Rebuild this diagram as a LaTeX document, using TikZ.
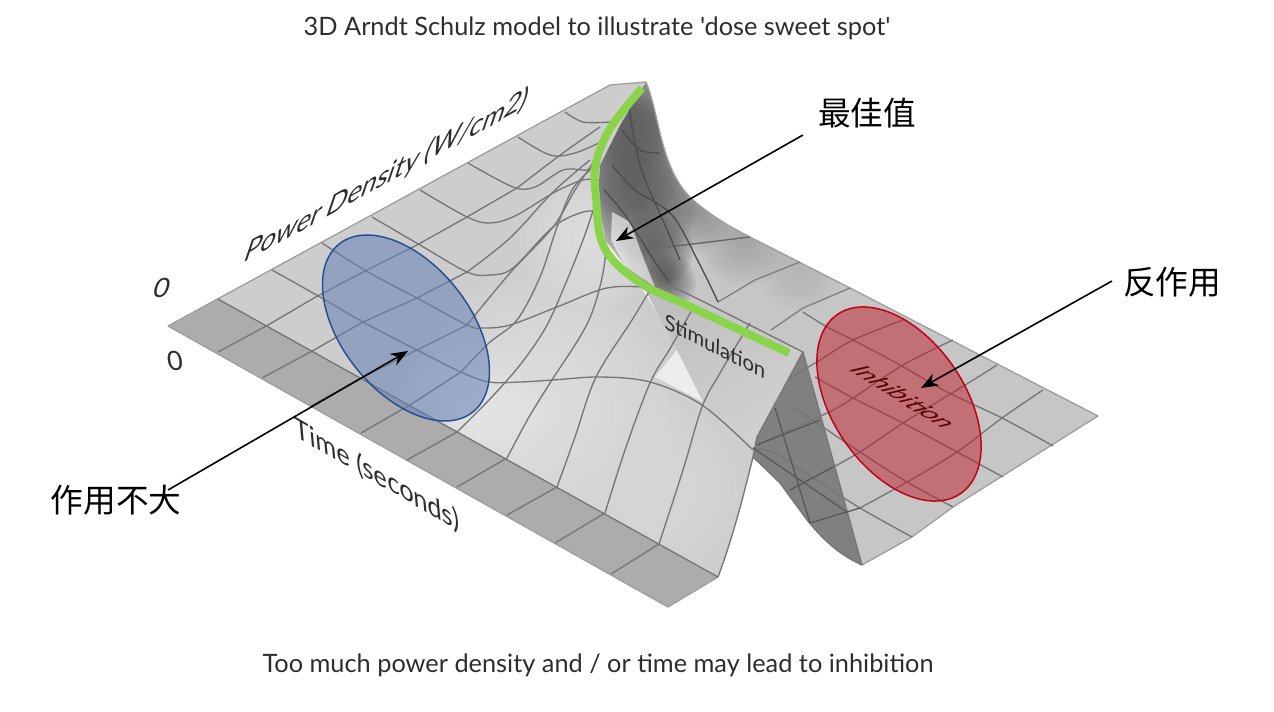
\documentclass[tikz,border=0pt]{standalone}
\usepackage{fontspec}
\setmainfont{Lato}
\newfontfamily\plainfont{Lato}
\newfontfamily\cjk{Noto Sans CJK SC}
\usetikzlibrary{shapes.geometric,arrows.meta}
\definecolor{stripc}{RGB}{172,172,172}
\definecolor{basec}{RGB}{205,205,205}
\definecolor{planec}{RGB}{198,198,198}
\definecolor{wallc}{RGB}{128,128,128}
\definecolor{meshc}{RGB}{118,118,118}
\definecolor{greenc}{RGB}{138,212,76}
\definecolor{bluefill}{RGB}{100,128,180}
\definecolor{blueline}{RGB}{38,78,150}
\definecolor{redfill}{RGB}{190,28,40}
\definecolor{redline}{RGB}{192,0,20}
\definecolor{inkc}{RGB}{45,45,45}
\tikzset{
  mesh/.style={draw=meshc,line width=1pt,line join=round},
  smoothmesh/.style={mesh,smooth,tension=0.55},
  pointer/.style={draw=black,line width=1.2pt,-{Stealth[length=13pt,width=10pt]}},
  cjklabel/.style={font=\cjk\fontsize{24.5}{28}\selectfont,text=black,inner sep=0pt},
  title/.style={font=\plainfont\fontsize{19}{22}\selectfont,text=inkc,inner sep=0pt},
  axislabel/.style={text=inkc,inner sep=0pt,transform shape},
}
\newcommand{\softblob}[4]{%
  \foreach \k in {1,...,12}{\fill[#4,fill opacity=0.07] (#1,#2) circle [radius={\k*#3/12}];}}
\begin{document}
\begin{tikzpicture}[x=0.75pt,y=-0.75pt]
\useasboundingbox (0,0) rectangle (1274,712);
% ---- right-hand plane, back edge to lower edge
\fill[planec] (646,82) .. controls (660,115) and (660,170) .. (693,200)
  .. controls (710,215) and (730,227) .. (750,237) -- (854,290) -- (1098,416)
  -- (953,507) -- (912,537) -- (862,565) -- (803,350) -- (680,300) -- (640,285)
  -- (605,240) -- (595,190) -- (596,160) -- (615,125) -- cycle;
% soft dark shading in the trough
\begin{scope}
  \clip (646,82) .. controls (660,115) and (660,170) .. (693,200)
  .. controls (710,215) and (730,227) .. (750,237) -- (854,290) -- (803,350) -- (680,300) -- (640,285)
  -- (605,240) -- (595,190) -- (596,160) -- (615,125) -- cycle;
  \foreach \pass in {1,2}{
  \softblob{630}{115}{58}{black!64}
  \softblob{632}{160}{62}{black!64}
  \softblob{640}{205}{55}{black!62}
  \softblob{655}{250}{38}{black!62}
  }
  \softblob{668}{282}{28}{black!78}
  \softblob{695}{210}{42}{black!55}
  \softblob{745}{240}{46}{black!42}
  \softblob{800}{270}{42}{black!32}
\end{scope}
% ---- left surface with the hump
\fill[basec] (168,326) -- (610,85) -- (646,82) -- (620,125) -- (600,165) -- (598,200)
  -- (607,248) -- (640,285) -- (677,345) -- (803,352) -- (757,437) -- (753,457)
  .. controls (740,510) and (730,545) .. (718,577) -- (668,607) -- cycle;
\begin{scope}
  \clip (168,326) -- (610,85) -- (646,82) -- (620,125) -- (600,165) -- (598,200)
  -- (607,248) -- (640,285) -- (677,345) -- (753,457)
  .. controls (740,510) and (730,545) .. (718,577) -- (668,607) -- cycle;
  \softblob{540}{410}{140}{white!72!basec}
  \softblob{470}{415}{75}{white!70!basec}
  \softblob{590}{240}{70}{white!70!basec}
  \softblob{655}{490}{100}{white!45!basec}
\end{scope}
% bright wedges
\fill[white,fill opacity=0.6] (612,212) -- (630,222) -- (645,262) -- (655,287) -- (625,266) -- (611,240) -- cycle;
\fill[white!93!black] (677,350) -- (703,402) -- (655,377) -- cycle;
% ---- ridge top plane
\shade[left color=black!25,right color=black!18,shading angle=30]
  (642,284) -- (803,350) -- (757,437) -- (753,452) -- (703,402) -- (677,350) -- cycle;
% ---- dark wall
\fill[wallc] (803,352) -- (862,565) .. controls (840,555) and (825,542) .. (807,520)
  -- (780,483) -- (753,457) -- (757,437) -- cycle;
% ---- front strip
\fill[stripc] (168,326) -- (218,299) -- (718,577) -- (668,607) -- cycle;
% ---- outlines of the surface
\draw[mesh,draw=meshc!70] (168,326) -- (610,85) -- (646,82);
\draw[mesh,draw=meshc!70] (646,82) .. controls (660,115) and (660,170) .. (693,200)
  .. controls (710,215) and (730,227) .. (750,237) -- (854,290) -- (1098,416)
  -- (953,507) -- (912,537) -- (862,565);
\draw[mesh,draw=meshc!70] (168,326) -- (668,607) -- (718,577);
\draw[mesh] (718,577) .. controls (730,545) and (740,510) .. (753,457) -- (757,437) -- (803,352) -- (862,565)
  .. controls (840,555) and (825,542) .. (807,520) -- (780,483) -- (753,457);
% ---- mesh: strip cross lines
\foreach \ax/\ay/\bx/\by in {218/352/268/325,262/378/314/350,311/406/361/378,361/433/410/405,407/460/457/432,457/487/507/458,507/515/557/487,555/543/605/513,611/574/659/544}{
  \draw[mesh] (\ax,\ay) -- (\bx,\by);}
% constant-power lines
\draw[mesh] (218,299) -- (718,577);
\draw[smoothmesh] plot coordinates {(272,270) (320,297) (363,322) (417,350) (461,372) (489,382) (520,382) (553,380) (600,377) (650,382) (702,405) (753,450)};
\draw[smoothmesh] plot coordinates {(322,243) (368,272) (417,298) (467,325) (483,328) (510,325) (557,307) (607,288) (650,287) (668,285)};
\draw[smoothmesh] plot coordinates {(372,217) (420,245) (467,272) (490,275) (513,268) (553,227) (583,212) (600,212)};
\draw[smoothmesh] plot coordinates {(420,190) (467,217) (490,223) (515,216) (555,192) (583,180) (600,180)};
\draw[smoothmesh] plot coordinates {(468,163) (513,187) (535,187) (563,170) (587,170) (600,165)};
\draw[smoothmesh] plot coordinates {(518,137) (550,155) (575,153) (605,140)};
\draw[smoothmesh] plot coordinates {(565,112) (583,122) (610,122)};
% ridge line under the green curve
\draw[smoothmesh] plot coordinates {(668,285) (700,300) (803,352)};
% transverse lines
\draw[mesh] (268,325) -- (314,298) -- (363,272) -- (417,245) -- (467,217) -- (517,188);
\draw[smoothmesh] plot coordinates {(517,188) (563,153) (600,127)};
\draw[mesh] (314,350) -- (363,322) -- (417,298) -- (467,272);
\draw[smoothmesh] plot coordinates {(467,272) (510,238) (553,192) (590,160)};
\draw[mesh] (361,378) -- (417,350) -- (467,325);
\draw[smoothmesh] plot coordinates {(467,325) (510,273) (553,227) (575,190) (595,160)};
\draw[mesh] (410,405) -- (461,372);
\draw[smoothmesh] plot coordinates {(461,372) (489,343) (517,320) (540,277) (557,227) (572,190) (590,170)};
\draw[smoothmesh] plot coordinates {(457,432) (489,400) (520,365) (546,327) (565,285) (583,240) (595,205)};
\draw[smoothmesh] plot coordinates {(507,458) (529,417) (550,383) (589,320) (605,260) (600,225)};
\draw[smoothmesh] plot coordinates {(557,487) (575,437) (596,377) (632,320) (650,290)};
\draw[smoothmesh] plot coordinates {(605,513) (625,450) (650,383) (671,347) (692,310)};
\draw[smoothmesh] plot coordinates {(659,544) (683,470) (702,407) (720,373) (750,323)};
% mesh on the dark part
\draw[mesh,draw=black!60] (668,247) -- (750,237);
\draw[mesh,draw=black!50] (718,302) -- (755,280) -- (800,262);
\draw[mesh,draw=black!50] (771,330) -- (803,308) -- (850,288);
\draw[smoothmesh,draw=black!70] plot coordinates {(622,130) (640,150) (660,153)};
\draw[smoothmesh,draw=black!70] plot coordinates {(612,165) (635,190) (672,215) (700,265) (718,302)};
\draw[smoothmesh,draw=black!70] plot coordinates {(628,100) (640,165) (665,225) (680,260)};
\draw[smoothmesh,draw=black!70] plot coordinates {(604,190) (625,215) (655,262) (668,280)};
% right plane lines
\draw[smoothmesh] plot coordinates {(1043,390) (1002,418) (957,452) (907,482) (860,508)};
\draw[smoothmesh] plot coordinates {(997,365) (970,382) (903,423) (860,452) (813,478) (790,490)};
\draw[smoothmesh] plot coordinates {(953,340) (903,365) (853,398) (827,413) (757,445)};
\draw[smoothmesh] plot coordinates {(903,320) (853,340) (820,360) (790,378)};
\draw[smoothmesh] plot coordinates {(1053,446) (1002,418) (947,392) (900,365) (853,340) (827,327) (803,312)};
\draw[smoothmesh] plot coordinates {(1003,477) (957,452) (903,423) (853,398) (815,377)};
\draw[smoothmesh] plot coordinates {(953,507) (907,482) (860,452) (820,425) (790,405)};
\draw[smoothmesh] plot coordinates {(912,537) (860,508) (813,478) (775,453) (753,448)};
% wall cross-lines
\draw[mesh,draw=black!65] (775,408) -- (810,523);
\draw[mesh,draw=black!65] (810,523) -- (860,508);
\draw[mesh,draw=black!65] (757,445) -- (820,420);
\draw[mesh,draw=black!65] (790,490) -- (833,467);
\draw[mesh,draw=black!65] (753,448) -- (847,512);
% ---- ellipses
\node[ellipse,draw=blueline,fill=bluefill,fill opacity=0.55,line width=1.1pt,minimum width=161pt,minimum height=96pt,inner sep=0pt,rotate=-51.5] (blueblob) at (406,328) {};
\node[ellipse,draw=redline,fill=redfill,fill opacity=0.5,line width=1.1pt,minimum width=163pt,minimum height=99pt,inner sep=0pt,rotate=-55.5] (redblob) at (899,404) {};
% ---- green curve
\coordinate (gs) at (642,88);
\coordinate (ge) at (789,353);
\draw[greenc,line width=6pt] plot[smooth,tension=0.6] coordinates {(gs) (611,127) (596,163) (596,197) (604,247) (639,282) (693,308) (ge)};
% ---- labels on the surface
\node[axislabel,rotate=29,xslant=1.1,yscale=0.72,font=\fontsize{23}{26}\selectfont] (powerlab) at (387,176) {Power Density (W/cm2)};
\node[axislabel,rotate=-30,xslant=-0.7,yscale=0.8,font=\fontsize{22}{25}\selectfont] (timelab) at (377,475) {Time (seconds)};
\node[axislabel,rotate=-27,xslant=-0.45,yscale=0.85,font=\fontsize{17}{20}\selectfont] (stimlab) at (715,346) {Stimulation};
\node[axislabel,rotate=-32,xslant=1,yscale=0.7,font=\fontsize{20}{23}\selectfont,text=red!35!black] (inhiblab) at (904,397) {Inhibition};
\node[axislabel,xslant=0.3,font=\fontsize{20}{23}\selectfont] (zeroa) at (162,288) {0};
\node[axislabel,xslant=-0.15,font=\fontsize{20}{23}\selectfont] (zerob) at (175,361) {0};
% ---- titles
\node[title] (toptitle) at (597,28) {3D Arndt Schulz model to illustrate 'dose sweet spot'};
\node[title] (bottitle) at (598,665) {Too much power density and / or time may lead to inhibition};
% ---- call-outs
\node[cjklabel] (best) at (867,113) {最佳值};
\node[cjklabel] (anti) at (1172,282) {反作用};
\node[cjklabel] (weak) at (116,500) {作用不大};
\coordinate (besttail) at (803,135);
\coordinate (besttip) at (616,241);
\coordinate (antitail) at (1112,281);
\coordinate (antitip) at (921,388);
\coordinate (weaktail) at (168,490);
\coordinate (weaktip) at (408,351);
\draw[pointer] (besttail) -- (besttip);
\draw[pointer] (antitail) -- (antitip);
\draw[pointer] (weaktail) -- (weaktip);
\end{tikzpicture}
\end{document}
